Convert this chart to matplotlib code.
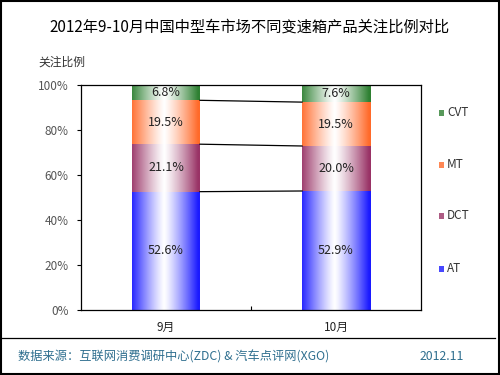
import matplotlib
matplotlib.use("Agg")
import matplotlib.pyplot as plt
import numpy as np
from matplotlib.colors import to_rgb
from matplotlib.patches import Rectangle
from matplotlib.lines import Line2D

plt.rcParams['font.family'] = ['Noto Sans CJK SC', 'DejaVu Sans']

categories = ["9月", "10月"]
series_names = ["AT", "DCT", "MT", "CVT"]
AT = [52.6, 52.9]
DCT = [21.1, 20.0]
MT = [19.5, 19.5]
CVT = [6.8, 7.6]
series_values = [AT, DCT, MT, CVT]
colors = ["#1a1aff", "#993366", "#ff6a2a", "#2e8032"]
yticks = [0, 20, 40, 60, 80, 100]
ytick_labels = ["0%", "20%", "40%", "60%", "80%", "100%"]

fig = plt.figure(figsize=(5, 3.75), dpi=100)
ax = fig.add_axes([0.162, 0.1733, 0.68, 0.6])

x = np.arange(len(categories))
width = 0.4
bottoms = np.zeros(len(categories))
bar_containers = []
for name, vals, col in zip(series_names, series_values, colors):
    bc = ax.bar(x, vals, width, bottom=bottoms, color='none', edgecolor='none', label=name)
    bar_containers.append((bc, bottoms.copy(), np.array(vals), col))
    bottoms = bottoms + np.array(vals)

# gradient fill
N = 200
t = np.abs(np.linspace(-1, 1, N) + 0.05)
t = np.clip(t, 0, 1) ** 1.2
for bc, bot, vals, col in bar_containers:
    c = np.array(to_rgb(col))
    img = (1 - t)[:, None] * np.ones(3) + t[:, None] * c
    img = img[None, :, :]
    for patch in bc.patches:
        x0 = patch.get_x(); w = patch.get_width()
        y0 = patch.get_y(); h = patch.get_height()
        ax.imshow(img, extent=[x0, x0 + w, y0, y0 + h], aspect='auto', zorder=2, interpolation='bilinear')
    for xi, b, v in zip(x, bot, vals):
        ax.text(xi, b + v / 2, f"{v:.1f}%", ha='center', va='center', fontsize=9, color='#222222', zorder=4)

# connector lines
cum = np.zeros(len(categories))
for vals in series_values[:-1]:
    cum = cum + np.array(vals)
    ax.plot([x[0] + width / 2, x[1] - width / 2], [cum[0], cum[1]], color='black', lw=0.9, zorder=3)

ax.set_xlim(-0.5, 1.5)
ax.set_ylim(0, 100)
ax.set_xticks([0.5])
ax.set_xticklabels([""])
ax.tick_params(axis='x', length=3, direction='in', width=0.8)
for xi, lab in zip(x, categories):
    ax.text(xi, -5, lab, ha='center', va='top', fontsize=8.5, color='#222222')
ax.set_yticks(yticks)
ax.set_yticklabels(ytick_labels, fontsize=8.5, color='#555555')
ax.tick_params(axis='y', length=3, width=0.8, pad=6)
for s in ax.spines.values():
    s.set_linewidth(0.9)
    s.set_color('black')

# legend
leg_y = [113, 165, 216, 269]
for name, col, yy in zip(["CVT", "MT", "DCT", "AT"], colors[::-1], leg_y):
    fy = 1 - yy / 375
    fig.patches.append(Rectangle((439 / 500, fy - 0.009), 5 / 500, 0.018, transform=fig.transFigure,
                                 facecolor=col, edgecolor='none', alpha=0.8))
    fig.text(447 / 500, fy, name, fontsize=8.5, color='#333333', va='center', ha='left')

fig.text(0.5, 1 - 27 / 375, "2012年9-10月中国中型车市场不同变速箱产品关注比例对比",
         ha='center', va='center', fontsize=11, color='black', fontweight='medium')
fig.text(38 / 500, 1 - 62 / 375, "关注比例", ha='left', va='center', fontsize=8.5, color='#333333')

fig.lines.append(Line2D([0.004, 0.99], [1 - 338 / 375] * 2, transform=fig.transFigure, color='black', lw=0.9))
fig.text(18 / 500, 1 - 357 / 375, "数据来源：互联网消费调研中心(ZDC) & 汽车点评网(XGO)", ha='left', va='center',
         fontsize=8.8, color='#2f6f8f')
fig.text(420 / 500, 1 - 357 / 375, "2012.11", ha='left', va='center', fontsize=8.8, color='#2f6f8f')

fig.patches.append(Rectangle((0.001, 0.002), 0.997, 0.996, transform=fig.transFigure,
                             facecolor='none', edgecolor='black', lw=1.5))

fig.savefig("out.png", dpi=100)
